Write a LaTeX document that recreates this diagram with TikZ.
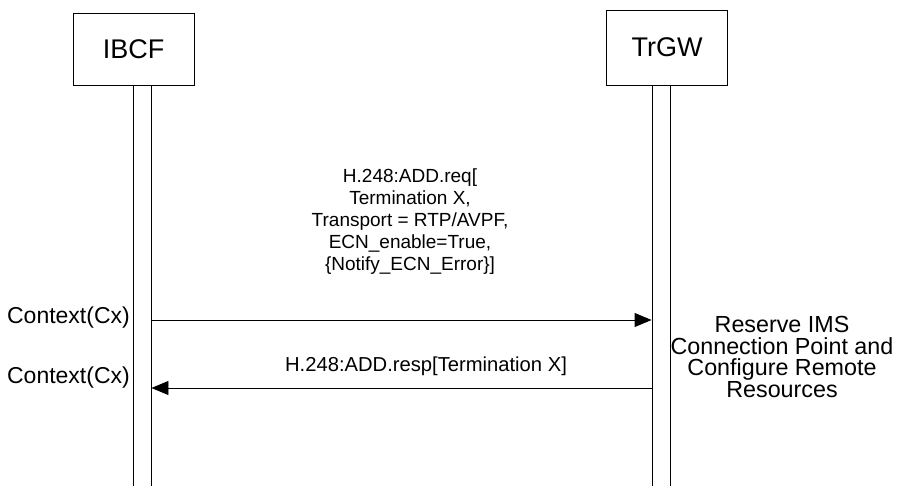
\documentclass[tikz,border=0pt]{standalone}
\usepackage{fontspec}
\setmainfont{Liberation Sans}
\usetikzlibrary{arrows.meta}
\begin{document}
\begin{tikzpicture}[x=1pt,y=-1pt,
  entity/.style={draw,line width=0.9pt,minimum width=121pt,inner sep=0pt,font=\fontsize{27}{30}\selectfont},
  lifeline/.style={draw,line width=0.9pt,minimum width=18pt,minimum height=405pt,inner sep=0pt,anchor=north},
  msg/.style={line width=0.9pt,-{Triangle[length=17pt,width=14pt]}},
  lbl/.style={align=center,inner sep=0pt,font=\fontsize{19}{22}\selectfont},
  side/.style={align=center,inner sep=0pt,font=\fontsize{23.3}{21.5}\selectfont},
  ctx/.style={anchor=east,inner sep=0pt,font=\fontsize{23}{24}\selectfont}]
\useasboundingbox (0,0) rectangle (899,486);
\node[entity,minimum height=72pt] (ibcf) at (133.5,49) {IBCF};
\node[entity,minimum height=75pt] (trgw) at (667,47.5) {TrGW};
\node[lifeline] (ibcfL) at (142,85) {};
\node[lifeline] (trgwL) at (661,85) {};
\node[lbl] (req) at (410,222) {H.248:ADD.req[\\Termination X,\\Transport = RTP/AVPF,\\ECN\_enable=True,\\\{Notify\_ECN\_Error\}]};
\node[lbl,font=\fontsize{20.2}{22}\selectfont] (resp) at (426,366) {H.248:ADD.resp[Termination X]};
\node[ctx] (c1) at (130,318) {Context(Cx)};
\node[ctx] (c2) at (130,378) {Context(Cx)};
\node[side] (res) at (782,357) {Reserve IMS\\Connection Point and\\Configure Remote\\Resources};
\coordinate (y1) at (0,320);
\coordinate (y2) at (0,388);
\draw[msg] (ibcfL.east |- y1) -- (trgwL.west |- y1);
\draw[msg] (trgwL.west |- y2) -- (ibcfL.east |- y2);
\end{tikzpicture}
\end{document}
